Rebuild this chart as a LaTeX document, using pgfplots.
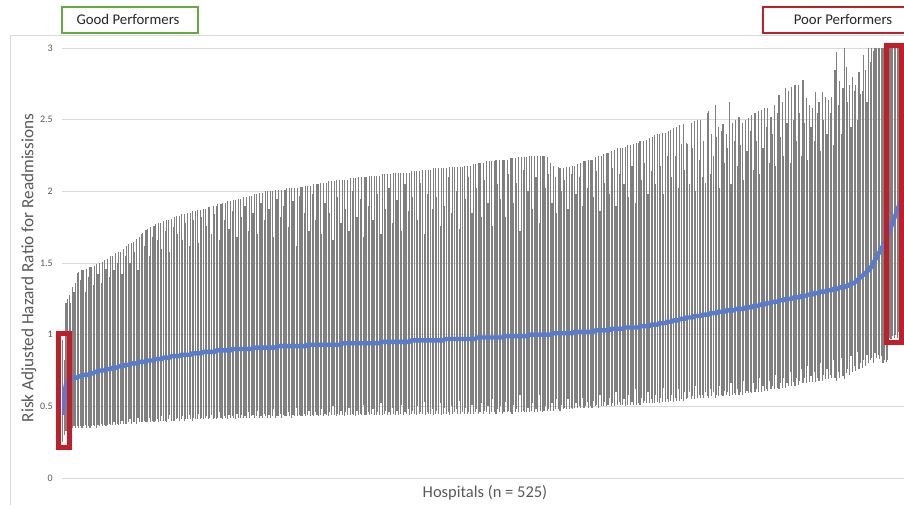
\documentclass[border=0pt]{standalone}
\usepackage{pgfplots}
\pgfplotsset{compat=1.18}
\usepackage{pgfplotstable}
\usepackage{fontspec}
\setmainfont{Carlito}
\definecolor{gridc}{RGB}{217,217,217}
\definecolor{txtc}{RGB}{89,89,89}
\definecolor{boxtxt}{RGB}{38,38,38}
\definecolor{estblue}{RGB}{88,124,205}
\definecolor{boxred}{RGB}{192,30,40}
\definecolor{boxgreen}{RGB}{100,170,60}
\definecolor{barc}{RGB}{128,128,128}

\pgfplotstableread[row sep=\\]{
e l h\\
0.44 0.25 0.96\\ 0.58 0.30 0.82\\ 0.66 0.33 1.22\\ 0.68 0.35 1.25\\ 0.69 0.35 1.28\\ 0.69 0.36 1.22\\ 0.70 0.35 1.33\\ 0.70 0.36 1.30\\ 0.70 0.35 1.36\\ 0.70 0.36 1.43\\
0.71 0.35 1.44\\ 0.71 0.36 1.38\\ 0.71 0.35 1.45\\ 0.72 0.36 1.45\\ 0.72 0.37 1.30\\ 0.72 0.35 1.46\\ 0.72 0.36 1.40\\ 0.73 0.35 1.47\\ 0.73 0.36 1.47\\ 0.73 0.37 1.35\\
0.74 0.36 1.48\\ 0.74 0.35 1.49\\ 0.74 0.37 1.42\\ 0.75 0.36 1.50\\ 0.75 0.38 1.36\\ 0.75 0.36 1.51\\ 0.75 0.37 1.52\\ 0.76 0.36 1.46\\ 0.76 0.37 1.53\\ 0.76 0.38 1.40\\
0.76 0.37 1.55\\ 0.77 0.37 1.55\\ 0.77 0.39 1.45\\ 0.77 0.37 1.57\\ 0.77 0.38 1.50\\ 0.78 0.37 1.58\\ 0.78 0.38 1.58\\ 0.78 0.40 1.42\\ 0.78 0.38 1.60\\ 0.79 0.38 1.55\\
0.79 0.38 1.62\\ 0.79 0.39 1.63\\ 0.79 0.41 1.50\\ 0.80 0.38 1.64\\ 0.80 0.39 1.65\\ 0.80 0.39 1.58\\ 0.80 0.38 1.67\\ 0.80 0.42 1.45\\ 0.81 0.39 1.68\\ 0.81 0.39 1.70\\
0.81 0.39 1.71\\ 0.81 0.40 1.62\\ 0.81 0.39 1.73\\ 0.82 0.39 1.74\\ 0.82 0.42 1.55\\ 0.82 0.39 1.75\\ 0.82 0.40 1.68\\ 0.82 0.39 1.76\\ 0.83 0.40 1.77\\ 0.83 0.41 1.66\\
0.83 0.39 1.78\\ 0.83 0.40 1.78\\ 0.83 0.43 1.60\\ 0.84 0.40 1.79\\ 0.84 0.40 1.72\\ 0.84 0.39 1.80\\ 0.84 0.41 1.80\\ 0.84 0.44 1.58\\ 0.85 0.40 1.81\\ 0.85 0.40 1.75\\
0.85 0.40 1.82\\ 0.85 0.41 1.83\\ 0.85 0.42 1.70\\ 0.85 0.40 1.83\\ 0.86 0.41 1.84\\ 0.86 0.43 1.66\\ 0.86 0.40 1.84\\ 0.86 0.41 1.78\\ 0.86 0.41 1.85\\ 0.86 0.44 1.62\\
0.86 0.41 1.85\\ 0.87 0.40 1.86\\ 0.87 0.42 1.80\\ 0.87 0.41 1.86\\ 0.87 0.41 1.87\\ 0.87 0.45 1.64\\ 0.87 0.41 1.87\\ 0.87 0.42 1.82\\ 0.88 0.41 1.88\\ 0.88 0.42 1.88\\
0.88 0.43 1.76\\ 0.88 0.41 1.89\\ 0.88 0.42 1.89\\ 0.88 0.44 1.70\\ 0.88 0.41 1.90\\ 0.88 0.42 1.84\\ 0.89 0.41 1.90\\ 0.89 0.42 1.91\\ 0.89 0.46 1.66\\ 0.89 0.42 1.91\\
0.89 0.41 1.92\\ 0.89 0.43 1.80\\ 0.89 0.42 1.92\\ 0.89 0.41 1.93\\ 0.89 0.44 1.74\\ 0.89 0.42 1.93\\ 0.90 0.43 1.86\\ 0.90 0.42 1.94\\ 0.90 0.41 1.94\\ 0.90 0.45 1.68\\
0.90 0.42 1.95\\ 0.90 0.42 1.95\\ 0.90 0.44 1.82\\ 0.90 0.42 1.96\\ 0.90 0.43 1.90\\ 0.90 0.42 1.96\\ 0.90 0.46 1.72\\ 0.90 0.42 1.97\\ 0.90 0.43 1.97\\ 0.91 0.44 1.85\\
0.91 0.42 1.98\\ 0.91 0.43 1.98\\ 0.91 0.47 1.70\\ 0.91 0.42 1.99\\ 0.91 0.43 1.92\\ 0.91 0.42 1.99\\ 0.91 0.45 1.80\\ 0.91 0.43 2.00\\ 0.91 0.42 2.00\\ 0.91 0.44 1.88\\
0.91 0.42 2.00\\ 0.91 0.43 2.00\\ 0.91 0.48 1.68\\ 0.91 0.42 2.01\\ 0.92 0.43 1.95\\ 0.92 0.43 2.01\\ 0.92 0.45 1.82\\ 0.92 0.42 2.01\\ 0.92 0.44 1.90\\ 0.92 0.43 2.01\\
0.92 0.43 2.02\\ 0.92 0.46 1.75\\ 0.92 0.43 2.02\\ 0.92 0.42 2.02\\ 0.92 0.44 1.93\\ 0.92 0.43 2.02\\ 0.92 0.49 1.62\\ 0.92 0.43 2.02\\ 0.92 0.44 1.97\\ 0.92 0.43 2.03\\
0.92 0.43 2.03\\ 0.92 0.45 1.85\\ 0.92 0.43 2.04\\ 0.93 0.44 2.04\\ 0.93 0.47 1.72\\ 0.93 0.43 2.04\\ 0.93 0.44 1.98\\ 0.93 0.43 2.05\\ 0.93 0.46 1.80\\ 0.93 0.44 2.05\\
0.93 0.43 2.05\\ 0.93 0.44 2.06\\ 0.93 0.48 1.70\\ 0.93 0.43 2.06\\ 0.93 0.45 1.92\\ 0.93 0.44 2.06\\ 0.93 0.43 2.07\\ 0.93 0.46 1.85\\ 0.93 0.44 2.07\\ 0.93 0.50 1.66\\
0.93 0.44 2.07\\ 0.93 0.43 2.08\\ 0.93 0.45 1.96\\ 0.93 0.44 2.08\\ 0.93 0.47 1.78\\ 0.94 0.44 2.08\\ 0.94 0.43 2.08\\ 0.94 0.46 1.88\\ 0.94 0.44 2.08\\ 0.94 0.49 1.72\\
0.94 0.44 2.09\\ 0.94 0.45 2.00\\ 0.94 0.44 2.09\\ 0.94 0.43 2.09\\ 0.94 0.47 1.82\\ 0.94 0.44 2.10\\ 0.94 0.45 1.95\\ 0.94 0.44 2.10\\ 0.94 0.51 1.68\\ 0.94 0.44 2.10\\
0.94 0.44 2.10\\ 0.94 0.46 1.90\\ 0.94 0.44 2.11\\ 0.94 0.45 2.11\\ 0.94 0.48 1.80\\ 0.94 0.44 2.11\\ 0.94 0.44 2.11\\ 0.94 0.46 1.98\\ 0.94 0.44 2.11\\ 0.95 0.52 1.70\\
0.95 0.44 2.12\\ 0.95 0.45 2.12\\ 0.95 0.47 1.88\\ 0.95 0.44 2.12\\ 0.95 0.46 2.02\\ 0.95 0.44 2.12\\ 0.95 0.49 1.78\\ 0.95 0.45 2.13\\ 0.95 0.44 2.13\\ 0.95 0.47 1.94\\
0.95 0.44 2.13\\ 0.95 0.45 2.13\\ 0.95 0.51 1.72\\ 0.95 0.44 2.13\\ 0.95 0.46 2.05\\ 0.95 0.45 2.13\\ 0.95 0.48 1.86\\ 0.95 0.44 2.13\\ 0.96 0.45 2.14\\ 0.96 0.47 1.96\\
0.96 0.45 2.14\\ 0.96 0.44 2.14\\ 0.96 0.50 1.80\\ 0.96 0.45 2.14\\ 0.96 0.46 2.06\\ 0.96 0.45 2.15\\ 0.96 0.53 1.70\\ 0.96 0.44 2.15\\ 0.96 0.46 1.98\\ 0.96 0.45 2.15\\
0.96 0.45 2.15\\ 0.96 0.48 1.88\\ 0.96 0.44 2.16\\ 0.96 0.45 2.16\\ 0.96 0.47 1.96\\ 0.96 0.45 2.16\\ 0.96 0.52 1.76\\ 0.96 0.44 2.16\\ 0.96 0.45 2.16\\ 0.97 0.49 1.90\\
0.97 0.45 2.16\\ 0.97 0.46 2.10\\ 0.97 0.44 2.17\\ 0.97 0.50 1.85\\ 0.97 0.45 2.17\\ 0.97 0.46 2.17\\ 0.97 0.48 2.00\\ 0.97 0.45 2.17\\ 0.97 0.54 1.74\\ 0.97 0.45 2.17\\
0.97 0.46 2.17\\ 0.97 0.45 2.18\\ 0.97 0.49 1.95\\ 0.97 0.45 2.18\\ 0.97 0.46 2.10\\ 0.97 0.45 2.18\\ 0.97 0.51 1.85\\ 0.97 0.45 2.19\\ 0.97 0.46 2.19\\ 0.98 0.48 2.02\\
0.98 0.45 2.20\\ 0.98 0.46 2.20\\ 0.98 0.52 1.82\\ 0.98 0.45 2.20\\ 0.98 0.47 2.08\\ 0.98 0.46 2.21\\ 0.98 0.50 1.92\\ 0.98 0.45 2.21\\ 0.98 0.46 2.21\\ 0.98 0.55 1.76\\
0.98 0.46 2.21\\ 0.98 0.45 2.22\\ 0.98 0.48 2.05\\ 0.98 0.46 2.22\\ 0.98 0.50 1.95\\ 0.98 0.45 2.22\\ 0.99 0.46 2.22\\ 0.99 0.53 1.82\\ 0.99 0.46 2.22\\ 0.99 0.47 2.12\\
0.99 0.46 2.23\\ 0.99 0.45 2.23\\ 0.99 0.51 1.92\\ 0.99 0.46 2.23\\ 0.99 0.48 2.06\\ 0.99 0.46 2.24\\ 0.99 0.58 1.72\\ 0.99 0.46 2.24\\ 0.99 0.47 2.15\\ 0.99 0.46 2.24\\
0.99 0.46 2.24\\ 0.99 0.49 2.00\\ 1.00 0.46 2.25\\ 1.00 0.47 2.25\\ 1.00 0.52 1.88\\ 1.00 0.46 2.25\\ 1.00 0.48 2.10\\ 1.00 0.46 2.25\\ 1.00 0.58 1.78\\ 1.00 0.47 2.25\\
1.00 0.46 2.25\\ 1.00 0.47 2.25\\ 1.00 0.50 2.02\\ 1.00 0.47 2.24\\ 1.00 0.48 2.12\\ 1.00 0.47 2.20\\ 1.00 0.52 1.92\\ 1.01 0.47 2.18\\ 1.01 0.48 2.10\\ 1.01 0.55 1.85\\
1.01 0.48 2.17\\ 1.01 0.47 2.16\\ 1.01 0.51 2.00\\ 1.01 0.48 2.16\\ 1.01 0.49 2.08\\ 1.01 0.48 2.17\\ 1.01 0.55 1.88\\ 1.01 0.48 2.17\\ 1.01 0.49 2.12\\ 1.01 0.48 2.18\\
1.02 0.49 2.18\\ 1.02 0.52 1.98\\ 1.02 0.49 2.19\\ 1.02 0.50 2.10\\ 1.02 0.49 2.20\\ 1.02 0.56 1.90\\ 1.02 0.49 2.21\\ 1.02 0.50 2.21\\ 1.02 0.53 2.02\\ 1.02 0.49 2.22\\
1.02 0.50 2.22\\ 1.02 0.49 2.22\\ 1.02 0.54 1.96\\ 1.03 0.50 2.24\\ 1.03 0.51 2.14\\ 1.03 0.49 2.25\\ 1.03 0.58 1.86\\ 1.03 0.50 2.25\\ 1.03 0.50 2.26\\ 1.03 0.53 2.06\\
1.03 0.50 2.27\\ 1.03 0.51 2.27\\ 1.03 0.56 1.98\\ 1.04 0.50 2.28\\ 1.04 0.52 2.16\\ 1.04 0.50 2.29\\ 1.04 0.60 1.90\\ 1.04 0.51 2.30\\ 1.04 0.53 2.12\\ 1.04 0.51 2.30\\
1.04 0.51 2.30\\ 1.05 0.55 2.05\\ 1.05 0.50 2.31\\ 1.05 0.51 2.32\\ 1.05 0.58 1.96\\ 1.05 0.51 2.32\\ 1.05 0.53 2.18\\ 1.05 0.51 2.33\\ 1.05 0.62 1.92\\ 1.05 0.51 2.34\\
1.05 0.52 2.34\\ 1.06 0.51 2.35\\ 1.06 0.56 2.08\\ 1.06 0.52 2.35\\ 1.06 0.54 2.20\\ 1.06 0.52 2.36\\ 1.06 0.60 1.98\\ 1.06 0.52 2.37\\ 1.07 0.55 2.14\\ 1.07 0.52 2.38\\
1.07 0.52 2.39\\ 1.07 0.58 2.05\\ 1.07 0.53 2.40\\ 1.08 0.52 2.40\\ 1.08 0.56 2.18\\ 1.08 0.53 2.41\\ 1.08 0.63 1.98\\ 1.08 0.53 2.41\\ 1.09 0.55 2.25\\ 1.09 0.53 2.42\\
1.09 0.54 2.43\\ 1.09 0.58 2.10\\ 1.10 0.53 2.44\\ 1.10 0.56 2.25\\ 1.10 0.54 2.45\\ 1.10 0.62 2.02\\ 1.11 0.54 2.46\\ 1.11 0.55 2.33\\ 1.11 0.54 2.47\\ 1.11 0.60 2.15\\
1.12 0.55 2.34\\ 1.12 0.56 2.33\\ 1.12 0.60 2.05\\ 1.12 0.55 2.48\\ 1.12 0.57 2.30\\ 1.13 0.55 2.49\\ 1.13 0.64 2.00\\ 1.13 0.56 2.50\\ 1.13 0.58 2.22\\ 1.13 0.56 2.50\\
1.14 0.58 2.10\\ 1.14 0.56 2.35\\ 1.14 0.60 2.06\\ 1.14 0.57 2.55\\ 1.14 0.56 2.56\\ 1.15 0.62 2.12\\ 1.15 0.57 2.40\\ 1.15 0.60 2.25\\ 1.15 0.56 2.60\\ 1.15 0.58 2.38\\
1.16 0.57 2.45\\ 1.16 0.64 2.02\\ 1.16 0.58 2.42\\ 1.16 0.57 2.47\\ 1.16 0.61 2.20\\ 1.17 0.58 2.40\\ 1.17 0.60 2.30\\ 1.17 0.57 2.62\\ 1.17 0.66 2.05\\ 1.17 0.58 2.48\\
1.17 0.59 2.35\\ 1.18 0.58 2.50\\ 1.18 0.62 2.18\\ 1.18 0.58 2.52\\ 1.18 0.60 2.32\\ 1.18 0.58 2.48\\ 1.18 0.68 2.08\\ 1.19 0.59 2.50\\ 1.19 0.61 2.28\\ 1.19 0.59 2.51\\
1.19 0.60 2.42\\ 1.19 0.59 2.53\\ 1.20 0.66 2.15\\ 1.20 0.60 2.55\\ 1.20 0.62 2.35\\ 1.20 0.60 2.56\\ 1.21 0.70 2.12\\ 1.21 0.60 2.57\\ 1.21 0.64 2.30\\ 1.21 0.61 2.58\\
1.22 0.62 2.45\\ 1.22 0.61 2.58\\ 1.22 0.68 2.20\\ 1.22 0.62 2.52\\ 1.23 0.64 2.40\\ 1.23 0.62 2.60\\ 1.23 0.72 2.18\\ 1.23 0.63 2.55\\ 1.24 0.62 2.67\\ 1.24 0.66 2.38\\
1.24 0.63 2.62\\ 1.24 0.70 2.25\\ 1.25 0.63 2.72\\ 1.25 0.66 2.48\\ 1.25 0.64 2.70\\ 1.25 0.74 2.20\\ 1.25 0.64 2.73\\ 1.26 0.67 2.50\\ 1.26 0.64 2.74\\ 1.26 0.70 2.35\\
1.26 0.65 2.74\\ 1.26 0.68 2.55\\ 1.27 0.76 2.25\\ 1.27 0.66 2.78\\ 1.27 0.70 2.48\\ 1.27 0.66 2.65\\ 1.28 0.78 2.22\\ 1.28 0.67 2.60\\ 1.28 0.71 2.45\\ 1.28 0.67 2.58\\
1.29 0.74 2.35\\ 1.29 0.67 2.69\\ 1.29 0.70 2.55\\ 1.29 0.68 2.62\\ 1.30 0.80 2.28\\ 1.30 0.68 2.69\\ 1.30 0.72 2.50\\ 1.30 0.69 2.66\\ 1.31 0.76 2.40\\ 1.31 0.69 2.64\\
1.31 0.72 2.55\\ 1.31 0.70 2.66\\ 1.32 0.82 2.32\\ 1.32 0.70 2.85\\ 1.32 0.68 2.97\\ 1.32 0.74 2.60\\ 1.33 0.70 2.77\\ 1.33 0.84 2.40\\ 1.33 0.71 2.72\\ 1.33 0.69 3.10\\
1.34 0.73 2.87\\ 1.34 0.76 2.62\\ 1.35 0.72 2.74\\ 1.35 0.85 2.45\\ 1.36 0.74 2.80\\ 1.36 0.78 2.70\\ 1.37 0.75 2.74\\ 1.38 0.88 2.50\\ 1.39 0.76 2.83\\ 1.40 0.80 2.68\\
1.41 0.77 2.70\\ 1.42 0.82 2.95\\ 1.43 0.78 2.85\\ 1.44 0.86 2.62\\ 1.45 0.80 3.05\\ 1.46 0.82 2.90\\ 1.48 0.84 3.10\\ 1.50 0.80 2.98\\ 1.52 0.87 3.20\\ 1.54 0.84 3.05\\
1.56 0.86 3.10\\ 1.58 0.83 3.20\\ 1.60 0.85 3.30\\ 1.62 0.80 3.40\\ 1.64 0.82 3.50\\ 1.66 0.81 3.40\\ 1.69 0.82 3.60\\ 1.72 0.98 3.50\\ 1.75 0.97 3.60\\ 1.78 0.99 3.70\\
1.81 0.98 3.80\\ 1.84 1.00 3.90\\ 1.87 0.98 4.00\\ 1.90 1.02 4.20\\ 1.93 1.09 4.50\\
}\hosp

\begin{document}
\begin{tikzpicture}[x=1pt,y=1pt]
\useasboundingbox (0,0) rectangle (904,504);
\draw[gridc, line width=0.8pt] (10,-5) -- (10,469) -- (910,469);
\begin{axis}[
  at={(62pt,26pt)}, anchor=south west,
  scale only axis, width=842pt, height=430pt,
  xmin=-0.5, xmax=526.18, ymin=0, ymax=3,
  ytick={0,0.5,1,1.5,2,2.5,3}, xtick=\empty,
  axis line style={draw=none},
  ymajorgrids, grid style={gridc, line width=0.8pt},
  major tick length=0pt,
  yticklabel style={font=\fontsize{10}{11}\selectfont, text=txtc, anchor=east, inner sep=0pt, xshift=-9pt},
  /pgf/number format/assume math mode=true,
  clip=true,
]
\addplot[draw=none, mark=none, forget plot,
  error bars/.cd, y dir=both, y explicit, error mark=none,
  error bar style={draw=barc, line width=1.15pt}]
  table[x expr=\coordindex, y=e,
        y error plus expr=\thisrow{h}-\thisrow{e},
        y error minus expr=\thisrow{e}-\thisrow{l}] {\hosp};
\addplot[estblue, line width=4.4pt, mark=none, line join=round] table[x expr=\coordindex, y=e] {\hosp};
\end{axis}
\node[rotate=90, anchor=base, text=txtc, font=\fontsize{17.2}{19}\selectfont] at (33.3,236) {Risk Adjusted Hazard Ratio for Readmissions};
\node[anchor=base, text=txtc, font=\fontsize{16.5}{18}\selectfont] at (485,7) {Hospitals (n = 525)};
\draw[boxgreen, line width=2pt] (62,471) rectangle (198,497);
\node[anchor=base, text=boxtxt, font=\fontsize{14.8}{16}\selectfont] at (128,479) {Good Performers};
\draw[boxred, line width=2pt] (763,471) rectangle (924,497);
\node[anchor=base, text=boxtxt, font=\fontsize{14.8}{16}\selectfont] at (843,479) {Poor Performers};
\draw[boxred, line width=5pt] (58,56.5) rectangle (69.7,171);
\draw[boxred, line width=5pt] (886.5,161.5) rectangle (901.5,458.3);
\end{tikzpicture}
\end{document}
